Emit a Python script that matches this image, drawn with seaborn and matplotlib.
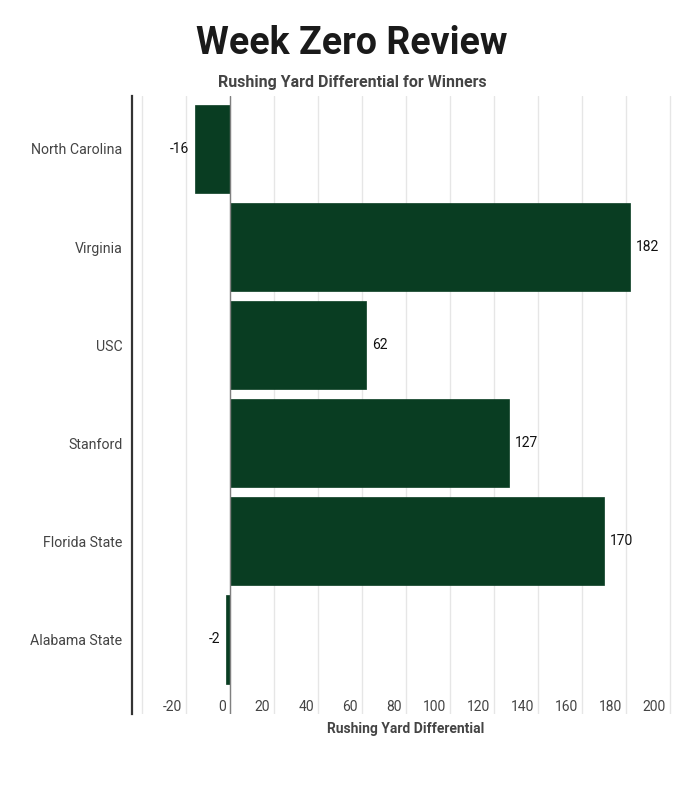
import seaborn as sns
import matplotlib.pyplot as plt
import matplotlib.transforms as mtransforms
import pandas as pd

# data
teams = ["North Carolina", "Virginia", "USC", "Stanford", "Florida State", "Alabama State"]
differential = [-16, 182, 62, 127, 170, -2]
tick_values = [-40, -20, 0, 20, 40, 60, 80, 100, 120, 140, 160, 180, 200]
tick_labels = ["", "-20", "0", "20", "40", "60", "80", "100", "120", "140", "160", "180", "200"]

df = pd.DataFrame({"team": teams, "diff": differential})

sns.set_style("white")
plt.rcParams['font.family'] = ['Roboto', 'DejaVu Sans']

fig = plt.figure(figsize=(7, 8), dpi=100)
ax = fig.add_axes([0.1886, 0.1075, 0.7828, 0.7725])

sns.barplot(data=df, x="diff", y="team", orient="h", color="#093d22",
            saturation=1, width=0.9, edgecolor="#093d22", linewidth=0.5,
            zorder=2, ax=ax)

ax.bar_label(ax.containers[0], padding=4, fontsize=10, color="#111111")

ax.set_xlim(-44.5, 204.5)
ax.set_ylim(5.76, -0.54)
ax.set_xticks(tick_values)
ax.set_xticklabels(tick_labels)
ax.grid(axis="x", color="#e6e6e6", linewidth=1, zorder=0)
ax.set_axisbelow(True)
ax.axvline(0, color="#808080", linewidth=1, zorder=3)

ax.tick_params(axis="x", length=0, pad=-10, labelsize=10, labelcolor="#444444")
ax.tick_params(axis="y", length=0, pad=7, labelsize=10.2, labelcolor="#444444")
offset = mtransforms.ScaledTranslation(-4 / 100, 0, fig.dpi_scale_trans)
for lab in ax.get_xticklabels():
    lab.set_horizontalalignment("right")
    lab.set_transform(lab.get_transform() + offset)

for side in ["top", "right", "bottom"]:
    ax.spines[side].set_visible(False)
ax.spines["left"].set_color("#333333")
ax.spines["left"].set_linewidth(1.6)

ax.set_ylabel("")
ax.set_xlabel("Rushing Yard Differential", fontsize=10, fontweight="bold",
              color="#444444", labelpad=6)

fig.text(0.503, 0.945, "Week Zero Review", ha="center", va="center",
         fontsize=27, fontweight="bold", color="#1a1a1a")
fig.text(0.503, 0.897, "Rushing Yard Differential for Winners", ha="center",
         va="center", fontsize=11.5, fontweight="bold", color="#444444")

fig.savefig("out.png", dpi=100)
